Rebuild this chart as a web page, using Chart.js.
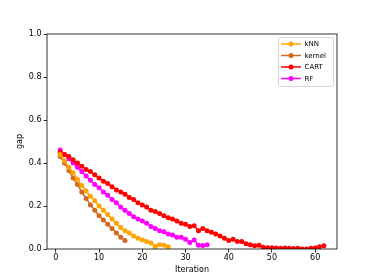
<!DOCTYPE html>
<html>
<head>
<meta charset="utf-8">
<script src="https://cdn.jsdelivr.net/npm/chart.js@4.4.1/dist/chart.umd.min.js"></script>
<style>
  html, body { margin: 0; padding: 0; background: #fff; }
  #wrap { width: 374px; height: 280px; }
</style>
</head>
<body>
<div id="wrap"><canvas id="c"></canvas></div>
<script>
// gap per iteration
const knnGap = [0.44, 0.41, 0.38, 0.355, 0.325, 0.295, 0.27, 0.245, 0.225, 0.2,
  0.18, 0.16, 0.14, 0.12, 0.1, 0.085, 0.075, 0.06, 0.05, 0.042,
  0.035, 0.028, 0.012, 0.02, 0.018, 0.01];
const kernelGap = [0.43, 0.4, 0.365, 0.33, 0.3, 0.265, 0.235, 0.205, 0.18, 0.155,
  0.135, 0.115, 0.095, 0.075, 0.055, 0.04];
const cartGap = [0.45, 0.44, 0.43, 0.415, 0.4, 0.385, 0.37, 0.36, 0.345, 0.33,
  0.315, 0.305, 0.29, 0.275, 0.265, 0.255, 0.24, 0.23, 0.215, 0.205,
  0.195, 0.18, 0.175, 0.165, 0.155, 0.145, 0.14, 0.13, 0.12, 0.115,
  0.105, 0.108, 0.085, 0.095, 0.085, 0.078, 0.07, 0.06, 0.05, 0.04,
  0.045, 0.035, 0.035, 0.025, 0.02, 0.015, 0.018, 0.008, 0.006, 0.006,
  0.005, 0.004, 0.005, 0.003, 0.002, 0.004, 0.0, 0.0, 0.003, 0.005,
  0.01, 0.015];
const rfGap = [0.46, 0.44, 0.42, 0.4, 0.38, 0.36, 0.34, 0.32, 0.3, 0.285,
  0.265, 0.25, 0.23, 0.215, 0.195, 0.18, 0.165, 0.15, 0.14, 0.13,
  0.12, 0.105, 0.095, 0.085, 0.08, 0.07, 0.065, 0.055, 0.055, 0.045,
  0.03, 0.042, 0.018, 0.016, 0.02];

const seriesNames = ['kNN', 'kernel', 'CART', 'RF'];
const seriesColors = ['#ffa500', '#d2691e', '#ff0000', '#ff00ff'];
const xTicks = [0, 10, 20, 30, 40, 50, 60];
const yTicks = [0, 0.2, 0.4, 0.6, 0.8, 1.0];

// iterations start at 1
const toPoints = arr => arr.map((v, i) => ({ x: i + 1, y: v }));

const allGaps = [knnGap, kernelGap, cartGap, rfGap];
const datasets = allGaps.map((g, k) => ({
  label: seriesNames[k],
  data: toPoints(g),
  borderColor: seriesColors[k],
  backgroundColor: seriesColors[k],
  borderWidth: 1.5,
  pointRadius: 2.5,
  pointBorderWidth: 0,
  pointHoverRadius: 2.5,
  tension: 0
}));

const FONT = 'DejaVu Sans';

// axes frame + legend box like matplotlib
const framePlugin = {
  id: 'frame',
  afterDraw(chart) {
    const { ctx, chartArea: a } = chart;
    ctx.save();
    ctx.strokeStyle = '#000';
    ctx.lineWidth = 0.8;
    ctx.strokeRect(a.left, a.top, a.right - a.left, a.bottom - a.top);

    // legend
    const bx = 278.5, by = 37.5, bw = 55, bh = 49;
    ctx.fillStyle = 'rgba(255,255,255,0.8)';
    ctx.strokeStyle = '#cccccc';
    ctx.lineWidth = 0.8;
    ctx.beginPath();
    ctx.roundRect(bx, by, bw, bh, 2);
    ctx.fill();
    ctx.stroke();
    ctx.font = '7px ' + FONT;
    ctx.textBaseline = 'middle';
    ctx.textAlign = 'left';
    const rows = [44, 55.5, 67, 78.5];
    seriesNames.forEach((name, k) => {
      const y = rows[k];
      ctx.strokeStyle = seriesColors[k];
      ctx.fillStyle = seriesColors[k];
      ctx.lineWidth = 1.5;
      ctx.beginPath();
      ctx.moveTo(281, y);
      ctx.lineTo(301, y);
      ctx.stroke();
      ctx.beginPath();
      ctx.arc(291, y, 2.5, 0, Math.PI * 2);
      ctx.fill();
      ctx.fillStyle = '#000';
      ctx.fillText(name, 304.5, y + 0.5);
    });
    ctx.restore();
  }
};

new Chart(document.getElementById('c'), {
  type: 'line',
  data: { datasets },
  plugins: [framePlugin],
  options: {
    responsive: true,
    maintainAspectRatio: false,
    animation: false,
    events: [],
    layout: { padding: { left: 7, right: 37, top: 34, bottom: 0 } },
    plugins: { legend: { display: false }, tooltip: { enabled: false } },
    scales: {
      x: {
        type: 'linear',
        min: -2.05,
        max: 65.05,
        afterFit: s => { s.height = 31; },
        afterBuildTicks: s => { s.ticks = xTicks.map(v => ({ value: v })); },
        border: { display: false },
        grid: { drawOnChartArea: false, drawTicks: true, tickLength: 3.5, color: '#000', lineWidth: 0.8 },
        ticks: { color: '#000', font: { family: FONT, size: 8 }, padding: 1, maxRotation: 0 },
        title: { display: true, text: 'Iteration', color: '#000', font: { family: FONT, size: 8 }, padding: { top: 0, bottom: 5 } }
      },
      y: {
        min: 0,
        max: 1,
        afterFit: s => { s.width = 40; },
        afterBuildTicks: s => { s.ticks = yTicks.map(v => ({ value: v })); },
        border: { display: false },
        grid: { drawOnChartArea: false, drawTicks: true, tickLength: 3.5, color: '#000', lineWidth: 0.8 },
        ticks: { color: '#000', font: { family: FONT, size: 8 }, padding: 2, callback: v => Number(v).toFixed(1) },
        title: { display: true, text: 'gap', color: '#000', font: { family: FONT, size: 8 }, padding: { top: 8, bottom: 0 } }
      }
    }
  }
});
</script>
</body>
</html>
